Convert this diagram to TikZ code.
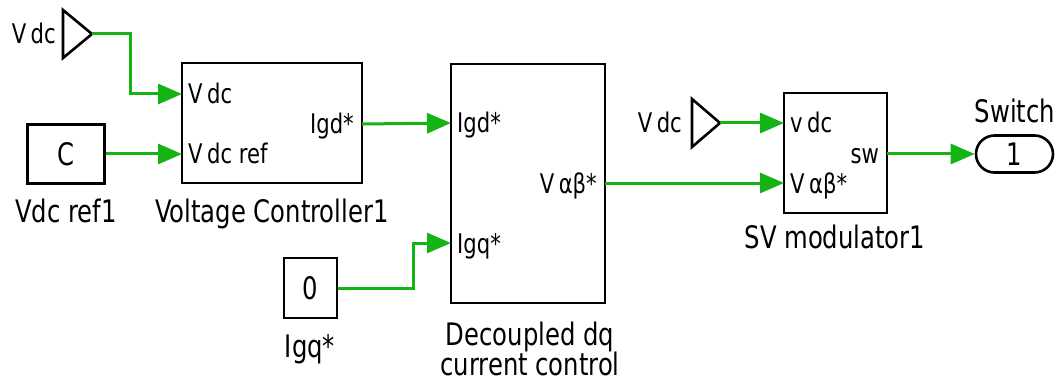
\documentclass[tikz,border=0pt]{standalone}
\usepackage{fontspec}
\setmainfont{DejaVu Sans Condensed}[FakeStretch=0.87]
\usetikzlibrary{arrows.meta,shapes.misc}
\definecolor{wiregreen}{RGB}{20,180,20}
\tikzset{
  blk/.style={draw, line width=2.8pt, inner sep=0pt},
  wire/.style={wiregreen, line width=3pt, -{Triangle[length=24pt,width=20pt]}},
  lbl/.style={font=\fontsize{31}{31}\selectfont, inner sep=0pt},
  portl/.style={font=\fontsize{27}{27}\selectfont, inner sep=0pt, yshift=-10pt},
}
\begin{document}
\begin{tikzpicture}[x=1pt, y=-1pt]
    \useasboundingbox (0,0) rectangle (1060,385);
    %tag Vdc in alto
    \draw[line width=2.6pt, line join=miter] (63,10) -- (92,34) -- (63,58) -- cycle;
    \coordinate (tagA) at (92,34);
    \node[portl, anchor=base east] (tagAl) at (56,34) {V\,dc};
    %costante C
    \node[blk, minimum width=77, minimum height=59] (cst) at (66,154) {\fontsize{31}{31}\selectfont C};
    \node[lbl, anchor=base] (cstl) at (66,222) {Vdc ref1};
    %blocco voltage controller
    \node[blk, minimum width=180, minimum height=120] (vc) at (272,123) {};
    \coordinate (vc-in1) at (182,94);
    \coordinate (vc-in2) at (182,154);
    \coordinate (vc-out) at (362,124);
    \node[portl, anchor=base west, xshift=6pt] (vcp1) at (vc-in1) {V\,dc};
    \node[portl, anchor=base west, xshift=6pt] (vcp2) at (vc-in2) {V\,dc ref};
    \node[portl, anchor=base east, xshift=-8pt] (vcp3) at (vc-out) {Igd*};
    \node[lbl, anchor=base] (vcl) at (272,222) {Voltage Controller1};
    %blocco decoupled dq
    \node[blk, minimum width=154, minimum height=239] (dq) at (528,183.5) {};
    \coordinate (dq-in1) at (451,123);
    \coordinate (dq-in2) at (451,243);
    \coordinate (dq-out) at (605,183);
    \node[portl, anchor=base west, xshift=6pt] (dqp1) at (dq-in1) {Igd*};
    \node[portl, anchor=base west, xshift=6pt] (dqp2) at (dq-in2) {Igq*};
    \node[portl, anchor=base east, xshift=-8pt] (dqp3) at (dq-out) {V\,αβ*};
    \node[lbl, anchor=base] (dql1) at (530,345) {Decoupled dq};
    \node[lbl, anchor=base] (dql2) at (530,375) {current control};
    %costante 0
    \node[blk, minimum width=53, minimum height=60] (zero) at (310.5,288) {\fontsize{31}{31}\selectfont 0};
    \node[lbl, anchor=base] (zerol) at (310,357) {Igq*};
    %tag Vdc a destra
    \draw[line width=2.6pt, line join=miter] (692,99) -- (720,123) -- (692,147) -- cycle;
    \coordinate (tagB) at (720,123);
    \node[portl, anchor=base east] (tagBl) at (682,123) {V\,dc};
    %modulatore SV
    \node[blk, minimum width=103, minimum height=120] (sv) at (835.5,153) {};
    \coordinate (sv-in1) at (784,123);
    \coordinate (sv-in2) at (784,183);
    \coordinate (sv-out) at (887,154);
    \node[portl, anchor=base west, xshift=6pt] (svp1) at (sv-in1) {v\,dc};
    \node[portl, anchor=base west, xshift=6pt] (svp2) at (sv-in2) {V\,αβ*};
    \node[portl, anchor=base east, xshift=-8pt] (svp3) at (sv-out) {sw};
    \node[lbl, anchor=base] (svl) at (835,248) {SV modulator1};
    %uscita switch
    \node[draw, line width=2.6pt, rounded rectangle, minimum width=77, minimum height=37, inner sep=0pt] (sw) at (1014.5,154) {\fontsize{31}{31}\selectfont 1};
    \node[lbl, anchor=base] (swl) at (1015,123) {Switch};
    %collegamenti
    \draw[wire] (tagA) -- (130,34) |- (vc-in1);
    \draw[wire] (cst.east) -- (vc-in2);
    \draw[wire] (vc-out) -- (dq-in1);
    \draw[wire] (zero.east) -- (413,288) |- (dq-in2);
    \draw[wire] (dq-out) -- (sv-in2);
    \draw[wire] (tagB) -- (sv-in1);
    \draw[wire] (sv-out) -- (sw.west);
\end{tikzpicture}
\end{document}
